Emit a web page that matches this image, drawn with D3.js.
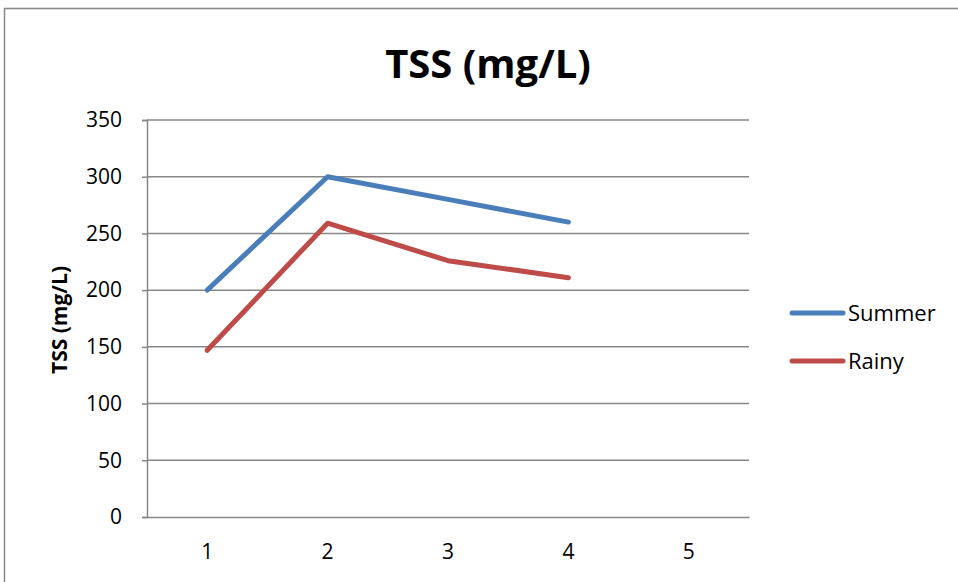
<!DOCTYPE html>
<html>
<head>
<meta charset="utf-8">
<script src="https://cdn.jsdelivr.net/npm/d3@7"></script>
<style>
  body { margin: 0; background: #fff; }
  svg { display: block; font-family: "Open Sans", sans-serif; }
</style>
</head>
<body>
<div id="chart"></div>
<script>
// values
var categories = [1, 2, 3, 4, 5];
var summer = [200, 300, 280, 260];
var rainy = [147, 259, 226, 211];
var yTicks = [0, 50, 100, 150, 200, 250, 300, 350];
var seriesNames = ["Summer", "Rainy"];
var seriesColors = ["#4A7EBB", "#BE4B48"];

var W = 958, H = 582;
var margin = {left: 147, right: 209, top: 120, bottom: 65};

var svg = d3.select("#chart").append("svg")
    .attr("width", W)
    .attr("height", H);

// outer chart frame (cut off at right and bottom like the reference)
svg.append("rect")
    .attr("x", 4.5).attr("y", 8.5)
    .attr("width", W + 10).attr("height", H + 10)
    .attr("fill", "none")
    .attr("stroke", "#878787")
    .attr("stroke-width", 1.5);

var x = d3.scaleBand()
    .domain(categories)
    .range([margin.left, W - margin.right]);

var y = d3.scaleLinear()
    .domain([0, 350])
    .range([H - margin.bottom, margin.top]);

// gridlines
svg.append("g")
  .selectAll("line")
  .data(yTicks.filter(function(d){ return d > 0; }))
  .enter().append("line")
    .attr("x1", margin.left).attr("x2", W - margin.right)
    .attr("y1", function(d){ return y(d); })
    .attr("y2", function(d){ return y(d); })
    .attr("stroke", "#878787")
    .attr("stroke-width", 1.5);

// y axis
var yAxis = svg.append("g")
    .attr("transform", "translate(" + margin.left + ",0)")
    .call(d3.axisLeft(y).tickValues(yTicks).tickSize(5).tickPadding(20));
yAxis.select(".domain").attr("stroke", "#878787").attr("stroke-width", 1.5);
yAxis.selectAll(".tick line").attr("stroke", "#878787").attr("stroke-width", 1.5);
yAxis.selectAll("text")
    .attr("font-family", "Open Sans, sans-serif")
    .attr("font-size", 21)
    .attr("fill", "#000");

// x axis
var xAxis = svg.append("g")
    .attr("transform", "translate(0," + (H - margin.bottom) + ")")
    .call(d3.axisBottom(x).tickSize(0).tickPadding(27));
xAxis.select(".domain").attr("stroke", "#878787").attr("stroke-width", 1.5);
xAxis.selectAll("text")
    .attr("font-family", "Open Sans, sans-serif")
    .attr("font-size", 21)
    .attr("fill", "#000");

// lines
var line = d3.line()
    .x(function(d, i){ return x(categories[i]) + x.bandwidth() / 2; })
    .y(function(d){ return y(d); });

[summer, rainy].forEach(function(s, i) {
  svg.append("path")
      .datum(s)
      .attr("d", line)
      .attr("fill", "none")
      .attr("stroke", seriesColors[i])
      .attr("stroke-width", 5)
      .attr("stroke-linecap", "round")
      .attr("stroke-linejoin", "round");
});

// title
svg.append("text")
    .attr("x", 488).attr("y", 78)
    .attr("text-anchor", "middle")
    .attr("font-family", "Open Sans, sans-serif")
    .attr("font-weight", "bold")
    .attr("font-size", 40)
    .text("TSS (mg/L)");

// y axis title
svg.append("text")
    .attr("transform", "translate(67,320) rotate(-90)")
    .attr("text-anchor", "middle")
    .attr("font-family", "Open Sans, sans-serif")
    .attr("font-weight", "bold")
    .attr("font-size", 21)
    .text("TSS (mg/L)");

// legend
var legend = svg.append("g");
seriesNames.forEach(function(name, i) {
  var ly = 313 + i * 48;
  legend.append("line")
      .attr("x1", 792).attr("x2", 843)
      .attr("y1", ly).attr("y2", ly)
      .attr("stroke", seriesColors[i])
      .attr("stroke-width", 5)
      .attr("stroke-linecap", "round");
  legend.append("text")
      .attr("x", 848).attr("y", ly + 8)
      .attr("font-family", "Open Sans, sans-serif")
      .attr("font-size", 22)
      .text(name);
});
</script>
</body>
</html>
